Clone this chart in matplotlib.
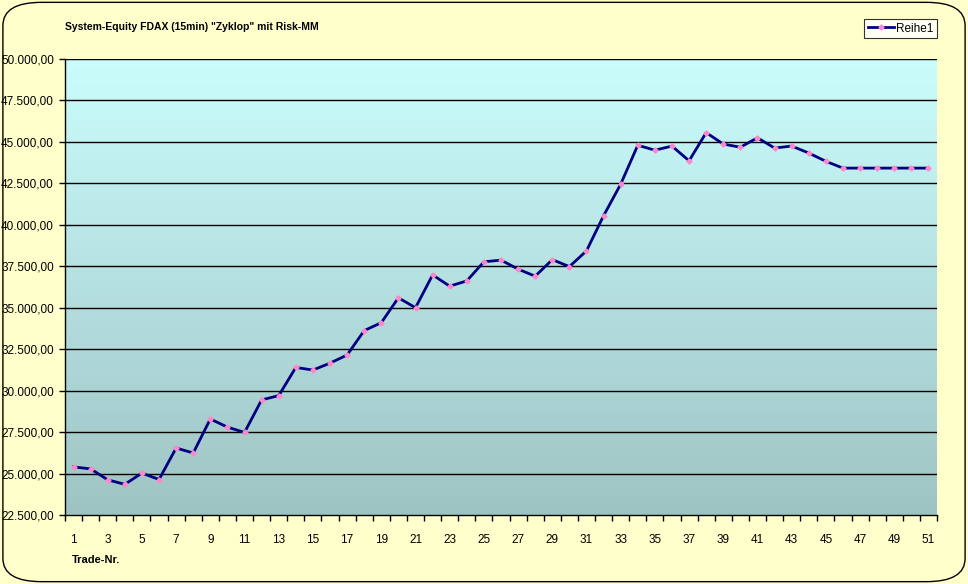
import matplotlib.pyplot as plt
import numpy as np
from matplotlib.colors import LinearSegmentedColormap
from matplotlib.patches import FancyBboxPatch
from matplotlib.ticker import FuncFormatter

# Data
trades = list(range(1, 52))
equity = [
    25400, 25280, 24620, 24350, 25030, 24640, 26540, 26240, 28290, 27800,
    27480, 29440, 29700, 31400, 31240, 31660, 32150, 33620, 34100, 35600,
    35000, 36980, 36300, 36620, 37770, 37870, 37330, 36900, 37900, 37480,
    38430, 40550, 42450, 44800, 44500, 44750, 43860, 45560, 44870, 44680,
    45250, 44630, 44750, 44330, 43830, 43420, 43420, 43420, 43420, 43420,
    43420,
]
y_ticks = np.arange(22500, 50001, 2500)
series_name = "Reihe1"
title = 'System-Equity FDAX (15min) "Zyklop" mit Risk-MM'
x_label = "Trade-Nr."

plt.rcParams["font.family"] = ["Liberation Sans", "DejaVu Sans"]

bg = "#FFFFCC"
fig = plt.figure(figsize=(9.68, 5.84), dpi=100, facecolor=bg)

# rounded outer frame
frame = FancyBboxPatch((0.003, 0.004), 0.994, 0.992, boxstyle="round,pad=0,rounding_size=0.04",
                       transform=fig.transFigure, facecolor="none", edgecolor="black",
                       linewidth=1.0, mutation_aspect=968 / 584 * 0.6)
fig.patches.append(frame)

ax = fig.add_axes([65 / 968, 69 / 584, 872 / 968, 456 / 584])

# vertical gradient background
cmap = LinearSegmentedColormap.from_list("bg", ["#9FC3C3", "#CBFDFD"])
grad = np.linspace(0, 1, 256).reshape(-1, 1)
ax.imshow(grad, cmap=cmap, aspect="auto", origin="lower",
          extent=[0, 1, 0, 1], transform=ax.transAxes, zorder=0)

x = np.arange(len(trades))
ax.plot(x, equity, color="#000080", linewidth=2.0, zorder=3,
        marker="D", markersize=2.6, markerfacecolor="#FF88CC",
        markeredgecolor="#FF88CC", label=series_name)

ax.set_xlim(-0.5, len(trades) - 0.5)
ax.set_ylim(y_ticks[0], y_ticks[-1])

ax.set_yticks(y_ticks)
ax.yaxis.set_major_formatter(FuncFormatter(
    lambda v, p: f"{v:,.2f}".replace(",", "X").replace(".", ",").replace("X", ".")))
for yv in y_ticks[1:]:
    ax.axhline(yv, color="black", linewidth=1.0, zorder=1)

# labels at every second category, tick marks at category boundaries
ax.set_xticks(x[::2])
ax.set_xticklabels([str(t) for t in trades[::2]])
ax.set_xticks(np.arange(-0.5, len(trades) - 0.4, 1), minor=True)
ax.tick_params(axis="x", which="major", length=0, pad=14, labelsize=8.5)
ax.tick_params(axis="x", which="minor", length=4, direction="out", width=1)
ax.tick_params(axis="y", length=4, width=1, labelsize=8.5, pad=4)

for side in ["top", "right"]:
    ax.spines[side].set_visible(False)
ax.spines["left"].set_linewidth(1.0)
ax.spines["bottom"].set_linewidth(1.0)

fig.text(65 / 968, 1 - 27 / 584, title, fontsize=7.5, fontweight="bold",
         va="center", ha="left")
fig.text(72 / 968, 1 - 560 / 584, x_label, fontsize=8, fontweight="bold",
         va="center", ha="left")

leg = fig.legend(loc="upper right", bbox_to_anchor=(937 / 968, 1 - 19 / 584),
                 fontsize=8.5, frameon=True, fancybox=False, borderpad=0.3,
                 handlelength=2.2, handletextpad=0.2, borderaxespad=0)
leg.get_frame().set_edgecolor("black")
leg.get_frame().set_facecolor("white")
leg.get_frame().set_linewidth(0.8)

fig.savefig("out.png", dpi=100, facecolor=bg)
